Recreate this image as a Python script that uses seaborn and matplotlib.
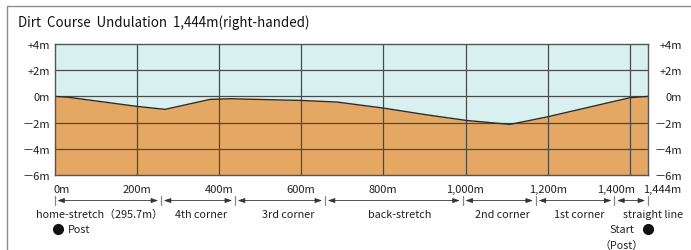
import matplotlib.pyplot as plt
import matplotlib.transforms as mtransforms
from matplotlib.patches import Rectangle
import pandas as pd
import seaborn as sns

# course profile (distance from start in m, height relative to start in m)
distance_m = [0, 30, 200, 269, 378, 427, 601, 687, 800, 900, 1001, 1108, 1198, 1400, 1444]
height_m = [0, -0.05, -0.76, -0.99, -0.23, -0.18, -0.31, -0.43, -0.89, -1.38, -1.83, -2.14, -1.57, -0.10, 0]

y_ticks = [4, 2, 0, -2, -4, -6]
y_labels = ["+4m", "+2m", "0m", "－2m", "－4m", "－6m"]
x_ticks = [0, 200, 400, 600, 800, 1000, 1200, 1400, 1444]
x_labels = ["0m", "200m", "400m", "600m", "800m", "1,000m", "1,200m", "1,400m", "1,444m"]

section_bounds = [0, 259, 439, 658, 993, 1171, 1362, 1444]
section_names = ["home-stretch（295.7m）", "4th corner", "3rd corner", "back-stretch",
                 "2nd corner", "1st corner", "straight line"]

TITLE = "Dirt  Course  Undulation  1,444m(right-handed)"
SKY = "#d8f0f0"
GROUND = "#e4a864"
GRID = "#4a4a4a"


def main():
    sns.set_theme(style="white")
    plt.rcParams["font.family"] = ["Noto Sans CJK JP", "DejaVu Sans"]

    df = pd.DataFrame({"distance": distance_m, "height": height_m})

    fig = plt.figure(figsize=(6.91, 2.51), dpi=100)
    W, H = 691, 251
    ax = fig.add_axes([54.5 / W, (H - 176) / H, 593.5 / W, 131 / H])

    # outer frame (only top/left visible in the reference)
    fig.patches.append(Rectangle((7 / W, -0.1), 1.2, (H - 7) / H + 0.1, transform=fig.transFigure,
                                 fill=False, edgecolor="#8c8c8c", linewidth=1.0))
    fig.text(18 / W, 1 - 23 / H, TITLE, fontsize=9.6, va="center", ha="left", color="#111")

    ax.fill_between(df["distance"], df["height"], 4, color=SKY, linewidth=0, zorder=0)
    ax.fill_between(df["distance"], df["height"], -6, color=GROUND, linewidth=0, zorder=0)
    for y in y_ticks[1:-1]:
        ax.axhline(y, color=GRID, linewidth=0.9, zorder=1)
    for x in x_ticks[1:-1]:
        ax.axvline(x, color=GRID, linewidth=0.9, zorder=1)
    sns.lineplot(data=df, x="distance", y="height", color="#2d2d2d", linewidth=1.0, ax=ax, zorder=2)

    ax.set_xlim(0, 1444)
    ax.set_ylim(-6, 4)
    ax.set_xlabel("")
    ax.set_ylabel("")
    for sp in ax.spines.values():
        sp.set_color("#555555")
        sp.set_linewidth(1.0)

    tick_fs = 8.0
    ax.set_yticks(y_ticks, y_labels)
    ax.set_xticks([])
    ax.tick_params(axis="y", length=0, pad=3.2, labelsize=tick_fs, labelcolor="#222")
    ax2 = ax.twinx()
    ax2.set_ylim(-6, 4)
    ax2.set_yticks(y_ticks, y_labels)
    ax2.tick_params(axis="y", length=0, pad=24.5, labelsize=tick_fs, labelcolor="#222")
    for lbl in ax2.get_yticklabels():
        lbl.set_horizontalalignment("right")
    ax2.grid(False)
    for sp in ax2.spines.values():
        sp.set_visible(False)

    trans = mtransforms.blended_transform_factory(ax.transData, ax.transAxes)
    px = 72 / 100  # points per pixel

    # distance labels
    label_shift = {0: 7, 1400: -14, 1444: 14}
    for x, lab in zip(x_ticks, x_labels):
        ax.annotate(lab, (x, -0.107), xycoords=trans, xytext=(label_shift.get(x, 0) * px, 0),
                    textcoords="offset points", ha="center", va="center", fontsize=tick_fs,
                    color="#222", annotation_clip=False)

    # section bars and arrows
    name_shift = [-8, 3, 8, 6, 3, 4, 22]
    for b in section_bounds:
        ax.plot([b, b], [-0.160, -0.229], transform=trans, color="#888888", linewidth=0.9,
                clip_on=False)
    for a, b, name, dx in zip(section_bounds[:-1], section_bounds[1:], section_names, name_shift):
        ax.annotate("", xy=(b, -0.195), xytext=(a, -0.195), xycoords=trans, textcoords=trans,
                    arrowprops=dict(arrowstyle="<|-|>,head_length=0.35,head_width=0.12",
                                    color="#333333", linewidth=0.6, shrinkA=2, shrinkB=2),
                    annotation_clip=False)
        ax.annotate(name, ((a + b) / 2, -0.298), xycoords=trans, xytext=(dx * px, 0),
                    textcoords="offset points", ha="center", va="center", fontsize=7.8,
                    color="#222", annotation_clip=False)

    # start / post markers
    ax.plot([8], [-0.416], transform=trans, marker="o", ms=7, color="#111", clip_on=False)
    ax.text(33, -0.416, "Post", transform=trans, ha="left", va="center", fontsize=7.8, color="#222")
    ax.plot([1444], [-0.416], transform=trans, marker="o", ms=7, color="#111", clip_on=False)
    ax.text(1410, -0.416, "Start", transform=trans, ha="right", va="center", fontsize=7.8,
            color="#222")
    ax.text(1380, -0.534, "（Post）", transform=trans, ha="center", va="center", fontsize=7.8,
            color="#222")

    fig.savefig("out.png", dpi=100)
    plt.close(fig)


if __name__ == "__main__":
    main()
